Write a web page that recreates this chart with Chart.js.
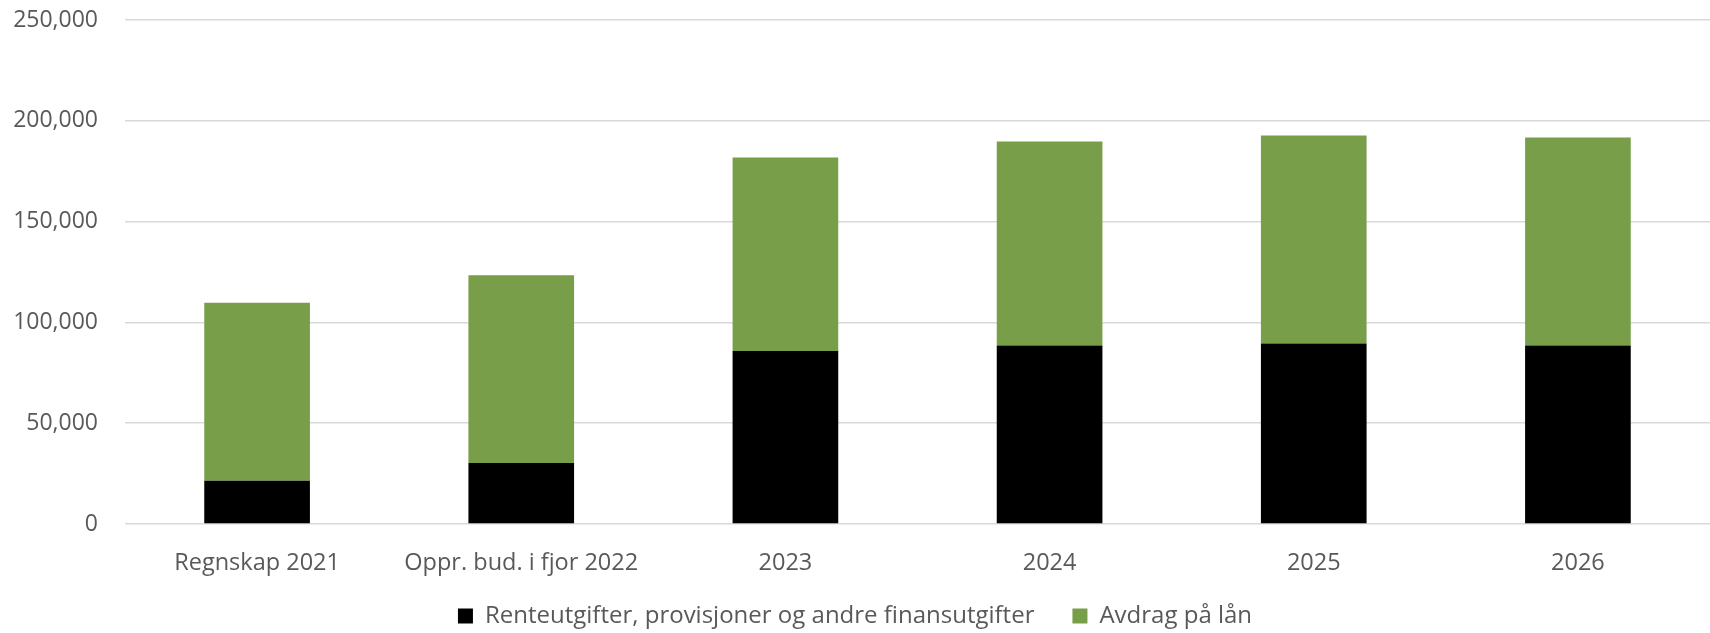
<!DOCTYPE html>
<html>
<head>
<meta charset="utf-8">
<script src="https://cdn.jsdelivr.net/npm/chart.js@4/dist/chart.umd.min.js"></script>
<style>
  html, body { margin: 0; padding: 0; background: #fff; }
  #wrap { width: 1710px; height: 633px; }
</style>
</head>
<body>
<div id="wrap"><canvas id="myChart" width="1710" height="633"></canvas></div>
<script>
// kategorier og verdier lest av figuren
const categories = ['Regnskap 2021', 'Oppr. bud. i fjor 2022', '2023', '2024', '2025', '2026'];
const renter = [21500, 30300, 85800, 88500, 89500, 88500];
const avdrag = [88200, 93100, 96000, 101200, 103200, 103200];
const seriesNames = ['Renteutgifter, provisjoner og andre finansutgifter', 'Avdrag på lån'];
const yTicks = [0, 50000, 100000, 150000, 200000, 250000];

const textColor = '#595959';
const fontFamily = '"Open Sans", sans-serif';

// legenden faar en lav boks i layouten, og strekkes opp etterpaa
const legendPlace = {
  id: 'legendPlace',
  beforeLayout(chart) {
    const lg = chart.legend;
    if (lg && !lg._fixed) {
      const orig = lg.fit.bind(lg);
      lg.fit = function() { orig(); this.height = 49; };
      lg._fixed = true;
    }
  },
  afterLayout(chart) {
    const lg = chart.legend;
    if (lg) { lg.top -= 18; lg.height += 18; }
  }
};

const ctx = document.getElementById('myChart').getContext('2d');
const myChart = new Chart(ctx, {
  type: 'bar',
  data: {
    labels: categories,
    datasets: [
      {
        label: seriesNames[0],
        data: renter,
        backgroundColor: '#000000',
        borderWidth: 0,
        categoryPercentage: 1,
        barPercentage: 0.4
      },
      {
        label: seriesNames[1],
        data: avdrag,
        backgroundColor: '#799e4a',
        borderWidth: 0,
        categoryPercentage: 1,
        barPercentage: 0.4
      }
    ]
  },
  plugins: [legendPlace],
  options: {
    responsive: false,
    animation: false,
    layout: { padding: { top: 20, right: 0, left: 0, bottom: 0 } },
    scales: {
      x: {
        stacked: true,
        afterFit: function(scale) { scale.height = 60; },
        grid: { display: false, drawTicks: false },
        border: { display: false },
        ticks: { color: textColor, font: { family: fontFamily, size: 23.5 }, padding: 25, maxRotation: 0 }
      },
      y: {
        stacked: true,
        min: yTicks[0],
        max: yTicks[yTicks.length - 1],
        afterFit: function(scale) { scale.width = 125; },
        afterBuildTicks: function(scale) { scale.ticks = yTicks.map(v => ({ value: v })); },
        grid: { color: '#d9d9d9', lineWidth: 1.5, drawTicks: true, tickLength: 27, tickColor: 'rgba(0,0,0,0)' },
        border: { display: false },
        ticks: {
          color: textColor,
          font: { family: fontFamily, size: 23 },
          padding: 0,
          callback: v => v.toLocaleString('en-US')
        }
      }
    },
    plugins: {
      tooltip: { enabled: false },
      legend: {
        position: 'bottom',
        labels: {
          color: textColor,
          font: { family: fontFamily, size: 24 },
          boxWidth: 15,
          boxHeight: 15,
          padding: 38
        }
      }
    }
  }
});
</script>
</body>
</html>
